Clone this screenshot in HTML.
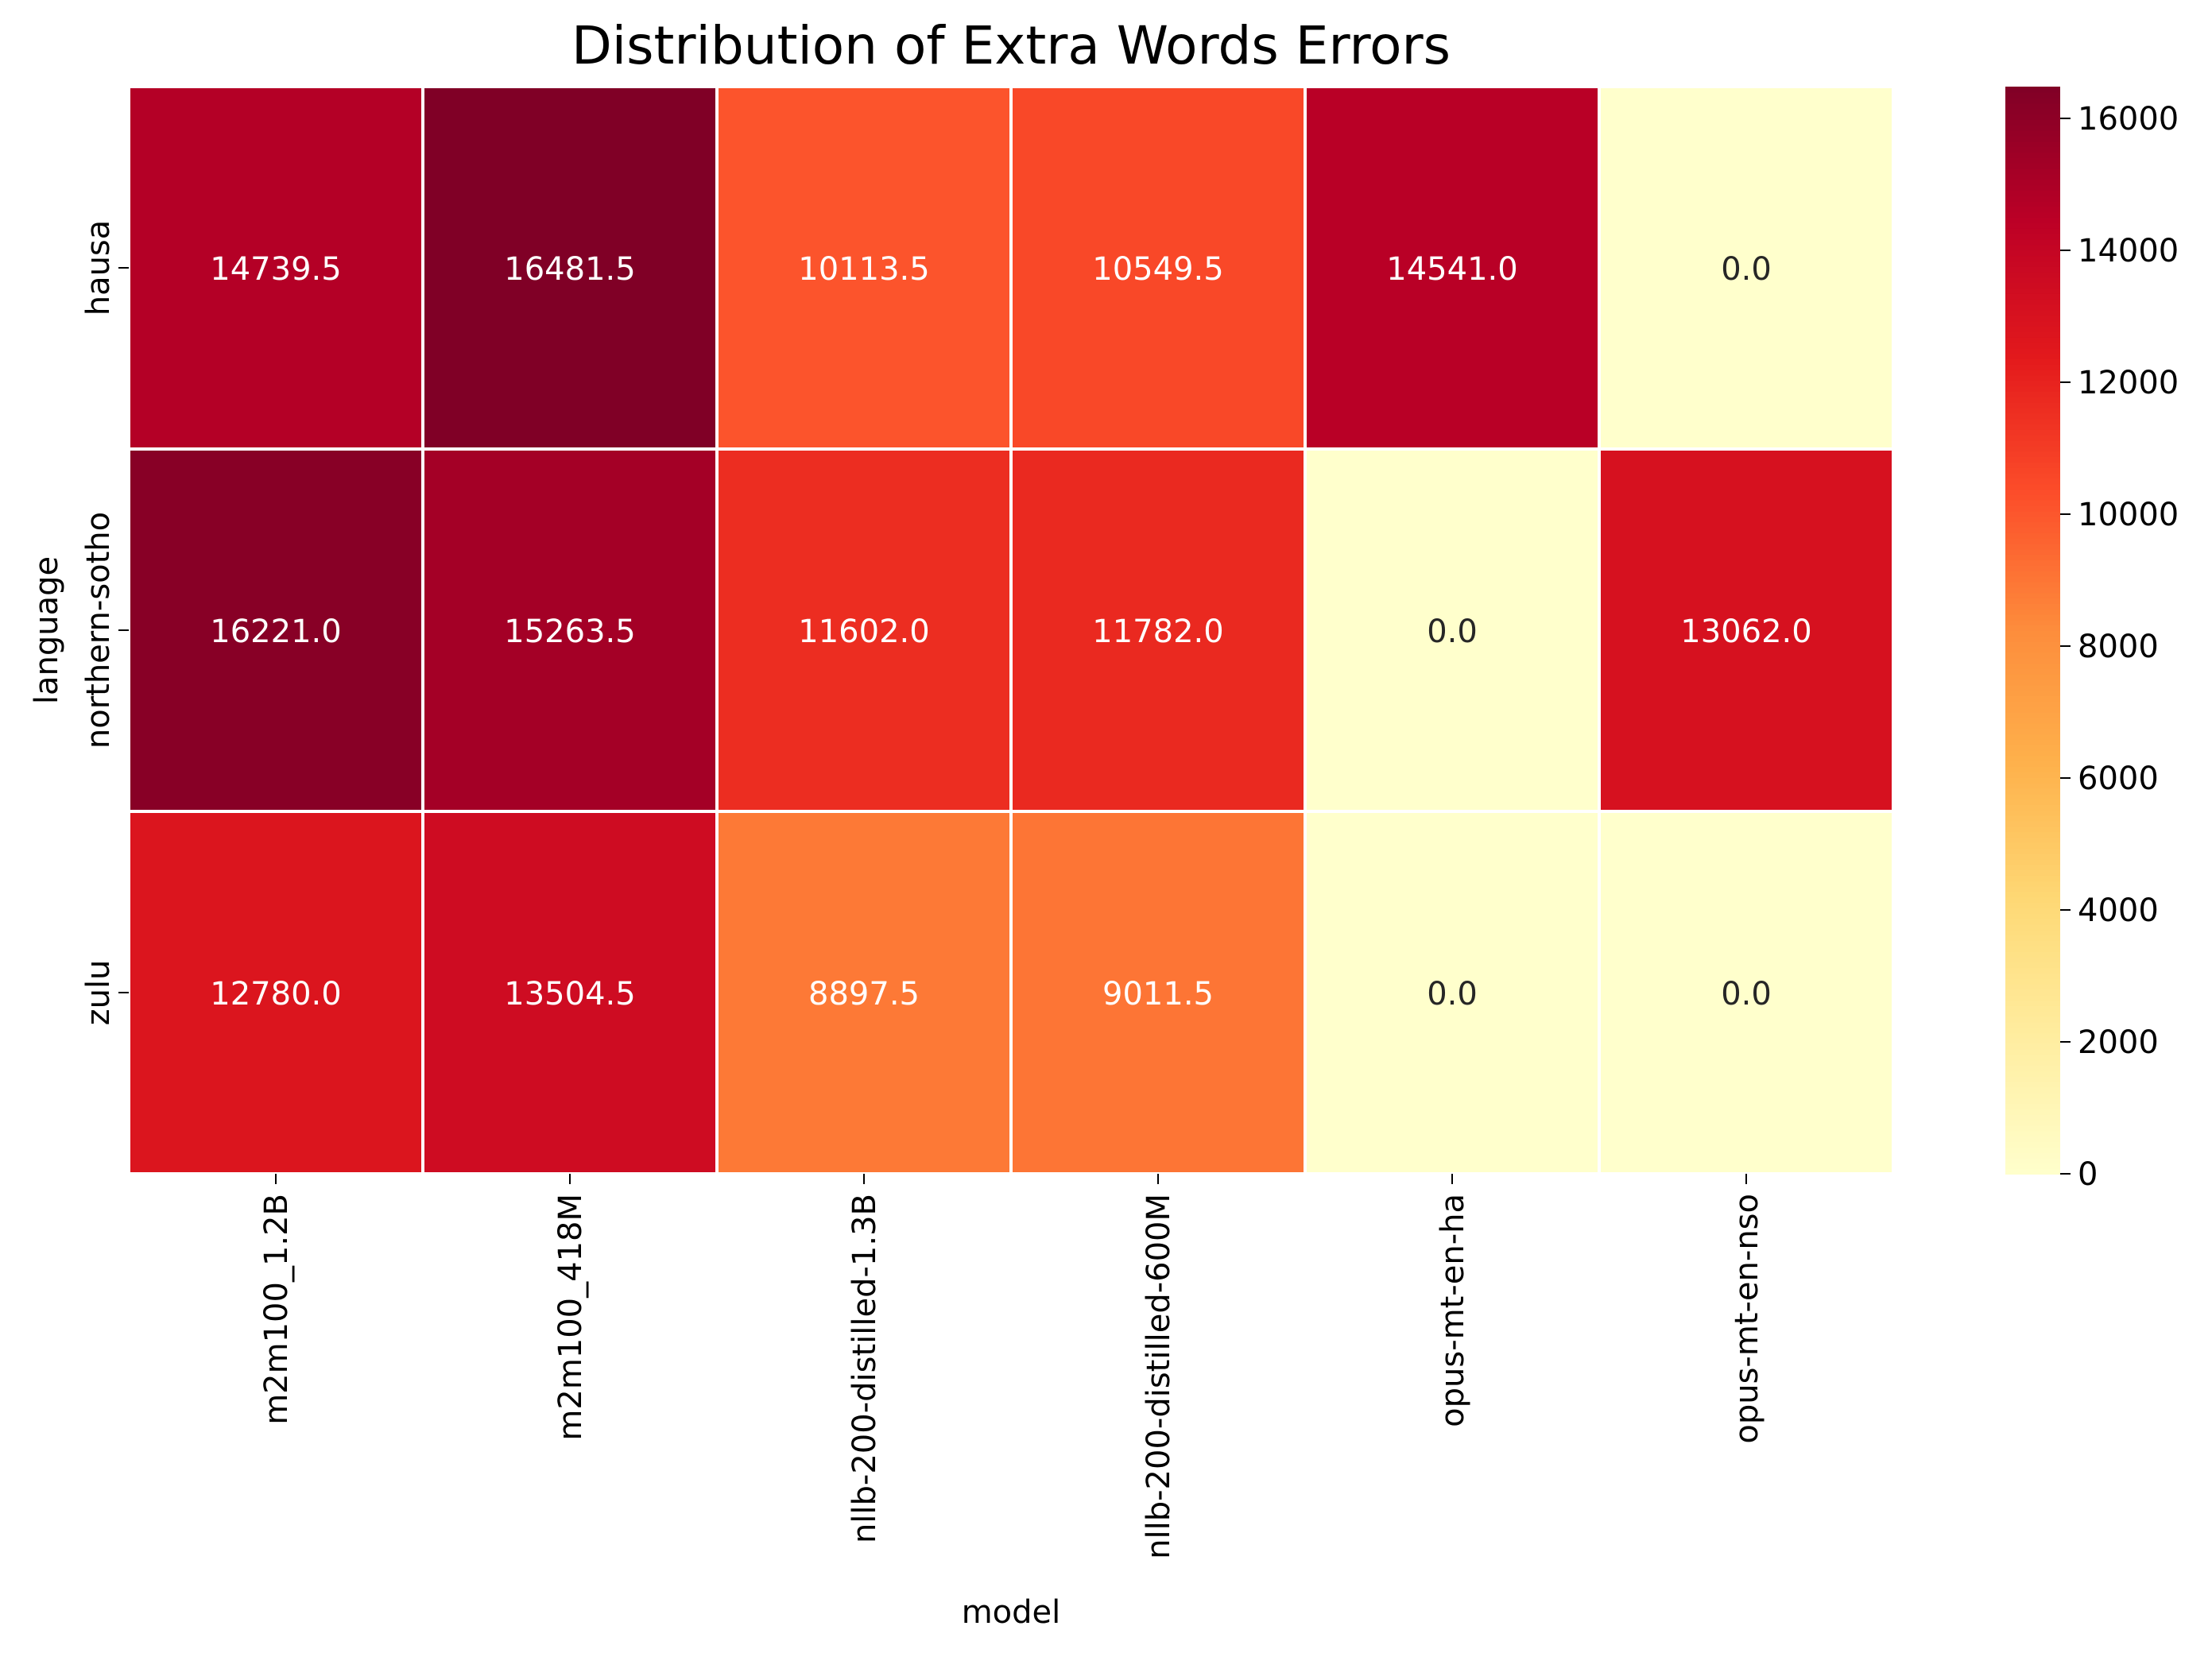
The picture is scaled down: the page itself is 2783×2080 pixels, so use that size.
<!DOCTYPE html>
<html><head><meta charset="utf-8"><style>
body{margin:0;background:#fff;}
svg text{font-family:"DejaVu Sans","Liberation Sans",sans-serif;}
</style></head><body>
<svg id="chart" width="2783" height="2075" xmlns="http://www.w3.org/2000/svg">
<rect width="2783" height="2075" fill="#fff"/>
<text x="1272" y="80" font-size="66" text-anchor="middle">Distribution of Extra Words Errors</text>
<g id="cells"></g><g id="xt"></g><g id="yt"></g><g id="cb"></g>
<text x="1272" y="2042" font-size="40" text-anchor="middle">model</text>
<text transform="translate(72,793) rotate(-90)" font-size="40" text-anchor="middle">language</text>
</svg>
<script>
const models=["m2m100_1.2B","m2m100_418M","nllb-200-distilled-1.3B","nllb-200-distilled-600M","opus-mt-en-ha","opus-mt-en-nso"];
const languages=["hausa","northern-sotho","zulu"];
const hausaVals=[14739.5,16481.5,10113.5,10549.5,14541.0,0.0];
const nsoVals=[16221.0,15263.5,11602.0,11782.0,0.0,13062.0];
const zuluVals=[12780.0,13504.5,8897.5,9011.5,0.0,0.0];
const cbTicks=[0,2000,4000,6000,8000,10000,12000,14000,16000];
const rows=[hausaVals,nsoVals,zuluVals];
const NS="http://www.w3.org/2000/svg";
const L=162,R=2382,T=109,B=1477;
const cw=(R-L)/models.length,ch=(B-T)/languages.length;
const all=rows.flat();const vmin=0,vmax=Math.max(...all);
const stops=["#ffffcc","#ffeda0","#fed976","#feb24c","#fd8d3c","#fc4e2a","#e31a1c","#bd0026","#800026"].map(h=>[1,3,5].map(i=>parseInt(h.substr(i,2),16)));
function cmap(v){let t=(v-vmin)/(vmax-vmin);t=Math.max(0,Math.min(1,t))*(stops.length-1);const i=Math.min(Math.floor(t),stops.length-2),f=t-i;const c=stops[i].map((a,k)=>Math.round(a+(stops[i+1][k]-a)*f));return c;}
function mk(tag,attrs,parent){const e=document.createElementNS(NS,tag);for(const k in attrs)e.setAttribute(k,attrs[k]);parent.appendChild(e);return e;}
const g=document.getElementById('cells');
rows.forEach((r,ri)=>r.forEach((v,ci)=>{
 const c=cmap(v);
 const rect=mk('rect',{x:L+ci*cw,y:T+ri*ch,width:cw,height:ch,fill:`rgb(${c})`,stroke:'#fff','stroke-width':4},g);
 
 
 const lum=(0.2126*c[0]+0.7152*c[1]+0.0722*c[2])/255;
 const t=mk('text',{x:L+(ci+.5)*cw,y:T+(ri+.5)*ch+15,'font-size':40,'text-anchor':'middle',fill:lum>0.7?'#262626':'#fff'},g);
 t.textContent=v.toFixed(1);
 
 
}));
const xt=document.getElementById('xt');
models.forEach((m,i)=>{const x=L+(i+.5)*cw;
 mk('line',{x1:x,x2:x,y1:B,y2:B+13,stroke:'#000','stroke-width':2},xt);
 const t=mk('text',{transform:`translate(${x+14},${B+25}) rotate(-90)`,'font-size':40,'text-anchor':'end'},xt);
 t.textContent=m;
 
 
});
const yt=document.getElementById('yt');
languages.forEach((l,i)=>{const y=T+(i+.5)*ch;
 mk('line',{x1:L-13,x2:L,y1:y,y2:y,stroke:'#000','stroke-width':2},yt);
 const t=mk('text',{transform:`translate(${L-25},${y}) rotate(-90)`,'font-size':40,'text-anchor':'middle'},yt);
 t.textContent=l;
 
 
});
const cb=document.getElementById('cb');
const cx=2523,cwid=69,N=200;
for(let i=0;i<N;i++){const v=vmin+(vmax-vmin)*(i+.5)/N;const y0=B-(B-T)*(i+1)/N;
 mk('rect',{x:cx,y:y0,width:cwid,height:(B-T)/N+1,fill:`rgb(${cmap(v)})`},cb);}
cbTicks.forEach(v=>{const y=B-(v-vmin)/(vmax-vmin)*(B-T);
 mk('line',{x1:cx+cwid,x2:cx+cwid+13,y1:y,y2:y,stroke:'#000','stroke-width':2},cb);
 const t=mk('text',{x:cx+cwid+22,y:y+14,'font-size':40},cb);
 t.textContent=v;
 
 
});


</script>
</body></html>
